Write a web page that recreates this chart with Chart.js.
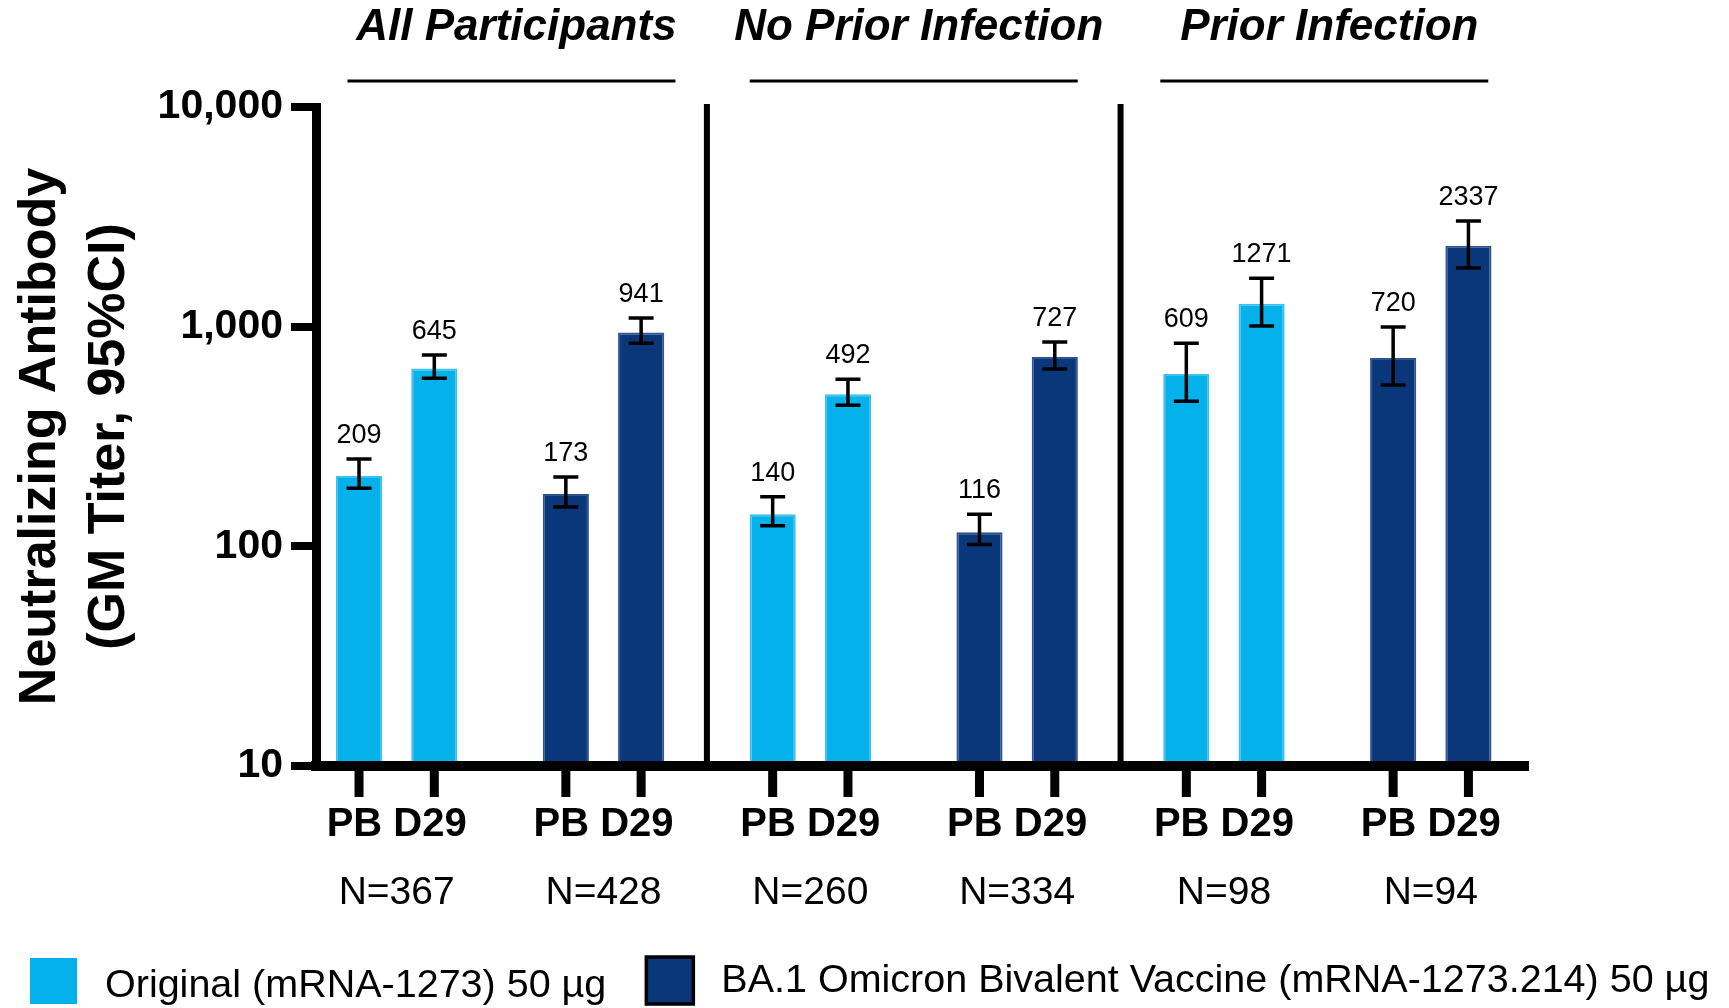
<!DOCTYPE html>
<html>
<head>
<meta charset="utf-8">
<script src="https://cdn.jsdelivr.net/npm/chart.js@4.4.0/dist/chart.umd.min.js"></script>
<style>
  html, body { margin: 0; padding: 0; background: #fff; }
</style>
</head>
<body>
<canvas id="myChart" width="1729" height="1008"></canvas>
<script>
// values
const groupLabels = ['PB D29', 'PB D29', 'PB D29', 'PB D29', 'PB D29', 'PB D29'];
const sampleSizes = ['N=367', 'N=428', 'N=260', 'N=334', 'N=98', 'N=94'];
const panels = ['All Participants', 'No Prior Infection', 'Prior Infection'];
const vaccines = ['Original (mRNA-1273) 50 µg', 'BA.1 Omicron Bivalent Vaccine (mRNA-1273.214) 50 µg'];
const groupVaccine = [0, 1, 0, 1, 0, 1];

const pbValues = [209, 173, 140, 116, 609, 720];
const pbLower = [184, 151, 124, 102, 458, 542];
const pbUpper = [250, 207, 168, 140, 841, 996];
const d29Values = [645, 941, 492, 727, 1271, 2337];
const d29Lower = [583, 841, 439, 641, 1007, 1849];
const d29Upper = [743, 1094, 577, 851, 1663, 3027];
const yTicks = [10, 100, 1000, 10000];

const fillColors = ['#05B1EA', '#0A367A'];
const edgeColors = ['#3DC1EE', '#2E5592'];
const FONT = '"Liberation Sans", Arial, sans-serif';

// groups sit a bit closer to the y axis than a plain offset scale
const fitGroups = (s) => {
  s._startValue = -0.39;
  s._valueRange = s.ticks.length - 1 + 0.39 + 0.47;
};

const decorations = {
  id: 'decorations',
  afterDatasetsDraw(chart) {
    const { ctx, chartArea, scales: { x, y } } = chart;
    ctx.save();
    ctx.fillStyle = '#000';
    ctx.strokeStyle = '#000';

    // panel dividers
    const bounds = [chartArea.left, x.getPixelForValue(1.5), x.getPixelForValue(3.5), chartArea.right];
    [bounds[1], bounds[2]].forEach(px => {
      ctx.fillRect(px - 3, chartArea.top - 3, 6, chartArea.bottom - chartArea.top + 3);
    });

    chart.data.datasets.forEach((ds, di) => {
      const meta = chart.getDatasetMeta(di);
      meta.data.forEach((bar, i) => {
        // tick under each bar
        ctx.fillRect(bar.x - 4.5, chartArea.bottom + 5, 9, 26);

        // 95% CI
        const lo = y.getPixelForValue(ds.lower[i]);
        const hi = y.getPixelForValue(ds.upper[i]);
        ctx.lineWidth = 3.5;
        ctx.beginPath();
        ctx.moveTo(bar.x, lo); ctx.lineTo(bar.x, hi);
        ctx.moveTo(bar.x - 12.5, lo); ctx.lineTo(bar.x + 12.5, lo);
        ctx.moveTo(bar.x - 12.5, hi); ctx.lineTo(bar.x + 12.5, hi);
        ctx.stroke();

        ctx.font = '27px ' + FONT;
        ctx.textAlign = 'center';
        ctx.textBaseline = 'alphabetic';
        ctx.fillText(String(ds.data[i]), bar.x, hi - 16);
      });
    });

    // panel titles
    panels.forEach((t, p) => {
      const cx = (bounds[p] + bounds[p + 1]) / 2;
      ctx.font = 'italic bold 44px ' + FONT;
      ctx.textAlign = 'center';
      ctx.textBaseline = 'middle';
      ctx.fillText(t, cx + 5, 28);
      ctx.lineWidth = 3;
      ctx.beginPath();
      ctx.moveTo(cx - 164, 81);
      ctx.lineTo(cx + 164, 81);
      ctx.stroke();
    });

    // legend
    let lx = 30;
    vaccines.forEach((name, k) => {
      ctx.fillStyle = fillColors[k];
      ctx.fillRect(lx, 958, 47, 46);
      if (k === 1) {
        ctx.lineWidth = 3.5;
        ctx.strokeRect(lx, 957, 47, 47);
      }
      ctx.fillStyle = '#000';
      ctx.font = '39.5px ' + FONT;
      ctx.textAlign = 'left';
      ctx.textBaseline = 'middle';
      const tx = lx + 75;
      ctx.fillText(name, tx, k === 0 ? 986 : 981);
      lx = tx + ctx.measureText(name).width + 40;
    });
    ctx.restore();
  }
};

const data = {
  labels: groupLabels,
  datasets: [
    {
      label: 'PB',
      data: pbValues,
      lower: pbLower,
      upper: pbUpper,
      backgroundColor: groupVaccine.map(v => fillColors[v]),
      borderColor: groupVaccine.map(v => edgeColors[v]),
      borderWidth: 2,
      categoryPercentage: 0.728,
      barPercentage: 0.613
    },
    {
      label: 'D29',
      data: d29Values,
      lower: d29Lower,
      upper: d29Upper,
      backgroundColor: groupVaccine.map(v => fillColors[v]),
      borderColor: groupVaccine.map(v => edgeColors[v]),
      borderWidth: 2,
      categoryPercentage: 0.728,
      barPercentage: 0.613
    }
  ]
};

const config = {
  type: 'bar',
  data: data,
  options: {
    responsive: false,
    animation: false,
    devicePixelRatio: 1,
    layout: { padding: { top: 107, right: 201, bottom: 72, left: 0 } },
    plugins: {
      legend: { display: false },
      tooltip: { enabled: false }
    },
    scales: {
      x: {
        type: 'category',
        offset: true,
        afterBuildTicks: fitGroups,
        afterFit: s => { s.height = 92; },
        grid: { display: false, drawTicks: false },
        border: { display: true, color: '#000', width: 10, z: 1 },
        ticks: {
          color: '#000',
          font: { family: FONT, size: 40, weight: 'bold' },
          padding: 35,
          maxRotation: 0,
          autoSkip: false
        }
      },
      xN: {
        type: 'category',
        position: 'bottom',
        weight: 1,
        offset: true,
        labels: sampleSizes,
        afterBuildTicks: fitGroups,
        afterFit: s => { s.height = 78; },
        grid: { display: false, drawTicks: false },
        border: { display: false },
        ticks: {
          color: '#000',
          font: { family: FONT, size: 39 },
          padding: 12,
          maxRotation: 0,
          autoSkip: false
        }
      },
      y: {
        type: 'logarithmic',
        min: 10,
        max: 10000,
        afterBuildTicks: s => { s.ticks = yTicks.map(v => ({ value: v })); },
        afterFit: s => { s.width = 316; },
        grid: { drawOnChartArea: false, drawTicks: true, tickLength: 25, lineWidth: 8, color: '#000' },
        border: { display: true, color: '#000', width: 9, z: 1 },
        ticks: {
          color: '#000',
          font: { family: FONT, size: 41, weight: 'bold' },
          padding: 8,
          callback: v => v.toLocaleString('en-US')
        },
        title: {
          display: true,
          text: ['Neutralizing Antibody', '(GM Titer, 95%CI)'],
          color: '#000',
          font: { family: FONT, size: 52, weight: 'bold', lineHeight: 1.33 },
          padding: { top: 6, bottom: 0 }
        }
      }
    }
  },
  plugins: [decorations]
};

const myChart = new Chart(document.getElementById('myChart'), config);
</script>
</body>
</html>
